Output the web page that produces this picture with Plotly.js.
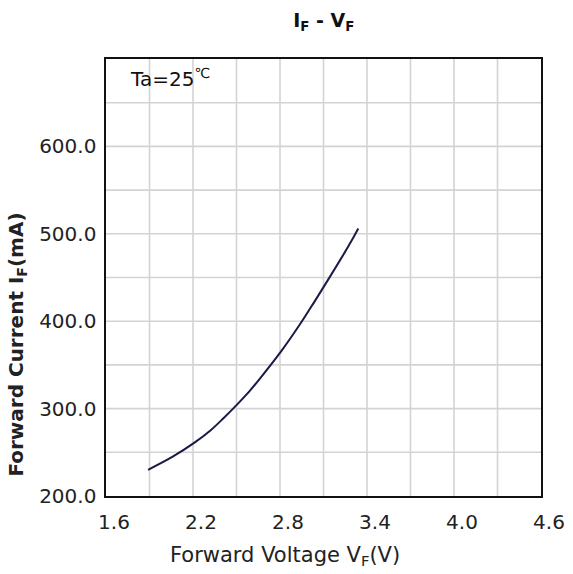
<!DOCTYPE html>
<html>
<head>
<meta charset="utf-8">
<script src="https://cdn.plot.ly/plotly-3.0.1.min.js"></script>
<style>html,body{margin:0;padding:0;background:#fff;}#chart{width:573px;height:574px;}</style>
</head>
<body>
<div id="chart"></div>
<script>
// Forward voltage (V) and forward current (mA)
var voltage = [1.89, 2.06, 2.21, 2.32, 2.41, 2.50, 2.59, 2.66, 2.81, 2.94, 3.04, 3.13, 3.24, 3.31, 3.34];
var current = [230, 245, 261, 275, 289, 304, 320, 334, 366, 397, 423, 447, 477, 497, 506];

var xTickVals = [1.6, 2.2, 2.8, 3.4, 4.0, 4.6];
var xTickText = ['1.6', '2.2', '2.8', '3.4', '4.0', '4.6'];
var yTickVals = [200, 300, 400, 500, 600];
var yTickText = ['200.0', '300.0', '400.0', '500.0', '600.0'];
var xGrid = [1.9, 2.2, 2.5, 2.8, 3.1, 3.4, 3.7, 4.0, 4.3];
var yGrid = [250, 300, 350, 400, 450, 500, 550, 600, 650];

var titleText = 'I<sub>F</sub> - V<sub>F</sub>';
var xTitle = 'Forward Voltage V<sub>F</sub>(V)';
var yTitle = '<b>Forward Current I<sub>F</sub>(mA)</b>';
var noteText = 'Ta=25<sup>℃</sup>';

var font = 'DejaVu Sans, Verdana, sans-serif';

var traces = [];
xGrid.forEach(function(v){
  traces.push({x:[v,v], y:[200,700], mode:'lines', line:{color:'#d3d3d3', width:1.6}, hoverinfo:'skip', showlegend:false});
});
yGrid.forEach(function(v){
  traces.push({x:[1.6,4.6], y:[v,v], mode:'lines', line:{color:'#d3d3d3', width:1.6}, hoverinfo:'skip', showlegend:false});
});
traces.push({
  x: voltage, y: current, mode: 'lines',
  line: {color: '#1a1a48', width: 2, shape: 'spline', smoothing: 1},
  showlegend: false
});

var layout = {
  width: 573, height: 574,
  margin: {l: 106, r: 32, t: 59, b: 78},
  paper_bgcolor: '#fff', plot_bgcolor: '#fff',
  font: {family: font, color: '#222', size: 20},
  title: {text: '<b>' + titleText + '</b>', x: 0.565, xanchor: 'center', y: 0.965, yanchor: 'middle', font: {size: 19, color: '#111', family: font}},
  xaxis: {
    range: [1.6, 4.6], tickmode: 'array', tickvals: xTickVals, ticktext: xTickText,
    showgrid: false, zeroline: false, showline: true, mirror: true, linecolor: '#111', linewidth: 1.6,
    ticks: 'outside', ticklen: 7, tickcolor: 'rgba(0,0,0,0)', ticklabelshift: 8,
    tickfont: {size: 20, color: '#222'}
  },
  yaxis: {
    range: [200, 700], tickmode: 'array', tickvals: yTickVals, ticktext: yTickText,
    showgrid: false, zeroline: false, showline: true, mirror: true, linecolor: '#111', linewidth: 1.6,
    ticks: 'outside', ticklen: 4, tickcolor: 'rgba(0,0,0,0)',
    tickfont: {size: 20, color: '#222'}
  },
  annotations: [
    {text: xTitle, xref: 'paper', yref: 'paper', x: 0.411, y: -0.137, xanchor: 'center', yanchor: 'middle', showarrow: false, font: {size: 21, color: '#222'}},
    {text: yTitle, xref: 'paper', yref: 'paper', x: -0.205, y: 0.346, xanchor: 'center', yanchor: 'middle', textangle: -90, showarrow: false, font: {size: 20, color: '#222'}},
    {text: noteText, xref: 'paper', yref: 'paper', x: 0.147, y: 0.957, xanchor: 'center', yanchor: 'middle', showarrow: false, font: {size: 20, color: '#111'}}
  ]
};

Plotly.newPlot('chart', traces, layout, {displayModeBar: false, staticPlot: true});
</script>
</body>
</html>
